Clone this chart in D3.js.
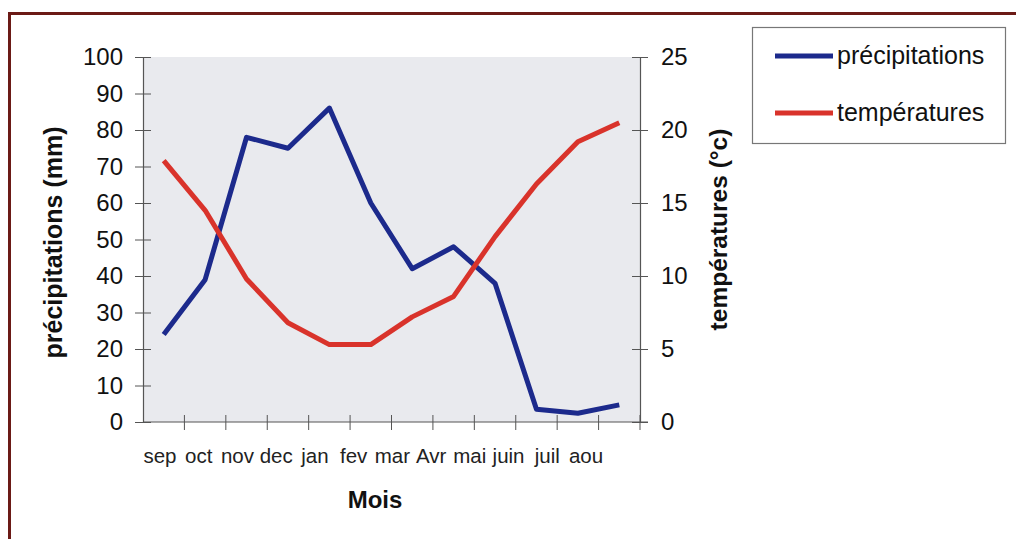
<!DOCTYPE html>
<html>
<head>
<meta charset="utf-8">
<script src="https://cdn.jsdelivr.net/npm/d3@7"></script>
<style>
  body { margin: 0; background: #fff; }
  text { font-family: "Liberation Sans", Arial, sans-serif; }
</style>
</head>
<body>
<script>
const months = ["sep", "oct", "nov", "dec", "jan", "fev", "mar", "Avr", "mai", "juin", "juil", "aou"];
const precip = [24, 39, 78, 75, 86, 60, 42, 48, 38, 3.5, 2.4, 4.7];
const temps = [17.9, 14.5, 9.8, 6.8, 5.3, 5.3, 7.2, 8.6, 12.7, 16.3, 19.2, 20.5];
const precipTicks = [0, 10, 20, 30, 40, 50, 60, 70, 80, 90, 100];
const tempTicks = [0, 5, 10, 15, 20, 25];
const series = [
    { name: "précipitations", color: "#1c2a8c" },
    { name: "températures", color: "#d9332b" }
];

const width = 1016, height = 539;
const plotL = 143, plotR = 640, plotT = 57, plotB = 422;

const svg = d3.select("body").append("svg")
    .attr("width", width)
    .attr("height", height);

// frame
svg.append("rect")
    .attr("x", 9.5).attr("y", 13.5)
    .attr("width", 1020).attr("height", 540)
    .attr("fill", "#fff")
    .attr("stroke", "#6b1a16")
    .attr("stroke-width", 3);

// plot area
svg.append("rect")
    .attr("x", plotL).attr("y", plotT)
    .attr("width", plotR - plotL).attr("height", plotB - plotT)
    .attr("fill", "#e9eaee");

const x = d3.scaleBand().domain(months).range([plotL, plotR]);
const xLabel = d3.scalePoint().domain(months).range([160, 586]);
const yP = d3.scaleLinear().domain([0, 100]).range([plotB, plotT]);
const yT = d3.scaleLinear().domain([0, 25]).range([plotB, plotT]);

const axisColor = "#555";

// left axis
const gl = svg.append("g").attr("transform", `translate(${plotL},0)`)
    .call(d3.axisLeft(yP).tickValues(precipTicks).tickSize(8).tickSizeOuter(0));
gl.selectAll(".tick line").attr("x2", -8).attr("x1", 8);
gl.selectAll(".tick text").attr("x", -20).attr("font-size", 24).attr("fill", "#111");

// right axis
const gr = svg.append("g").attr("transform", `translate(${plotR},0)`)
    .call(d3.axisRight(yT).tickValues(tempTicks).tickSize(8).tickSizeOuter(0));
gr.selectAll(".tick line").attr("x1", -8).attr("x2", 8);
gr.selectAll(".tick text").attr("x", 21).attr("font-size", 24).attr("fill", "#111");

// bottom axis: ticks at band boundaries
const gb = svg.append("g").attr("transform", `translate(0,${plotB})`);
gb.append("line").attr("x1", plotL).attr("x2", plotR + 8).attr("stroke", axisColor);
gb.selectAll("line.t").data(months)
    .join("line").attr("class", "t")
    .attr("x1", d => x(d) + x.bandwidth())
    .attr("x2", d => x(d) + x.bandwidth())
    .attr("y1", -7).attr("y2", 8)
    .attr("stroke", axisColor);
gb.selectAll("text").data(months).join("text")
    .attr("x", d => xLabel(d)).attr("y", 41)
    .attr("text-anchor", "middle")
    .attr("font-size", 20.5).attr("fill", "#222")
    .text(d => d);

svg.selectAll(".domain, .tick line").attr("stroke", axisColor);
svg.selectAll(".domain").attr("stroke-width", 1.2);

// lines
const cx = d => x(d) + x.bandwidth() / 2;
svg.append("path")
    .attr("d", d3.line().x((d, i) => cx(months[i])).y(d => yP(d))(precip))
    .attr("fill", "none").attr("stroke", series[0].color)
    .attr("stroke-width", 5).attr("stroke-linejoin", "round");
svg.append("path")
    .attr("d", d3.line().x((d, i) => cx(months[i])).y(d => yT(d))(temps))
    .attr("fill", "none").attr("stroke", series[1].color)
    .attr("stroke-width", 5).attr("stroke-linejoin", "round");

// axis titles
svg.append("text")
    .attr("transform", `translate(62,${(plotT + plotB) / 2 + 3}) rotate(-90)`)
    .attr("text-anchor", "middle")
    .attr("font-size", 25).attr("font-weight", "bold").attr("fill", "#111")
    .text("précipitations (mm)");
svg.append("text")
    .attr("transform", `translate(727,${(plotT + plotB) / 2 - 10}) rotate(-90)`)
    .attr("text-anchor", "middle")
    .attr("font-size", 24.5).attr("font-weight", "bold").attr("fill", "#111")
    .text("températures (°c)");
svg.append("text")
    .attr("x", 375).attr("y", 508)
    .attr("text-anchor", "middle")
    .attr("font-size", 24).attr("font-weight", "bold").attr("fill", "#111")
    .text("Mois");

// legend
const lg = svg.append("g");
lg.append("rect")
    .attr("x", 752.5).attr("y", 27.5)
    .attr("width", 253).attr("height", 116)
    .attr("fill", "#fff").attr("stroke", "#777").attr("stroke-width", 1.2);
series.forEach((s, i) => {
    const yy = 56 + i * 57;
    lg.append("line")
        .attr("x1", 775).attr("x2", 833)
        .attr("y1", yy).attr("y2", yy)
        .attr("stroke", s.color).attr("stroke-width", 5);
    lg.append("text")
        .attr("x", 837).attr("y", yy + 8)
        .attr("font-size", 25).attr("fill", "#111")
        .text(s.name);
});
</script>
</body>
</html>
